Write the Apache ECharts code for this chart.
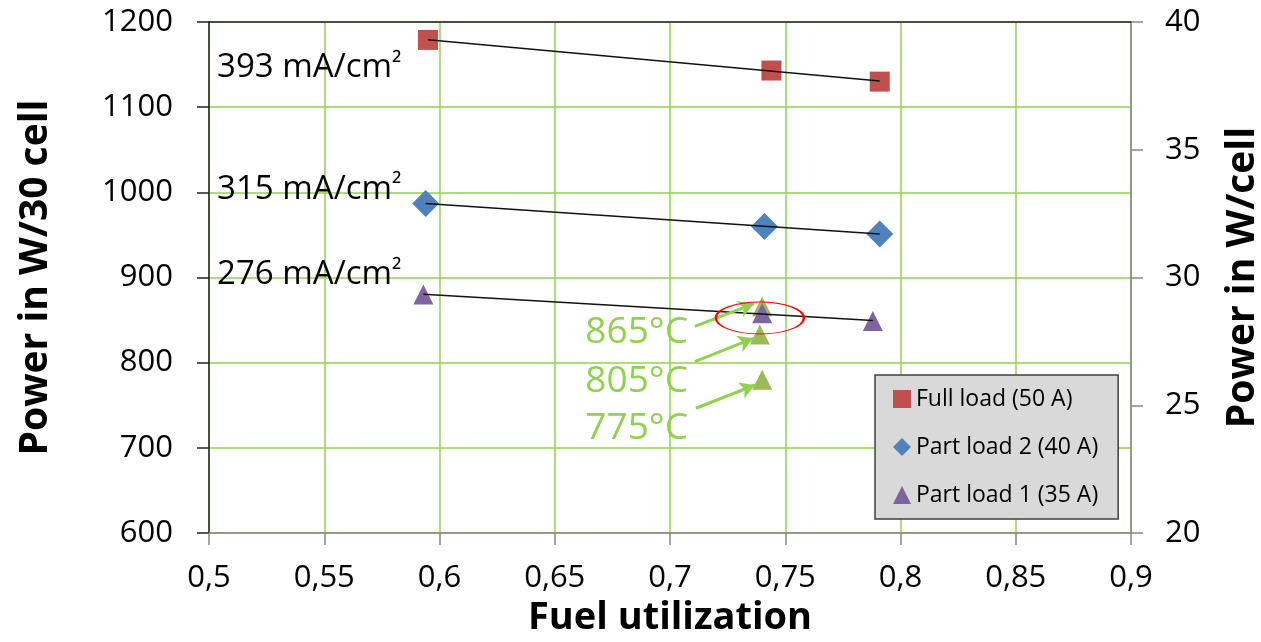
<!DOCTYPE html>
<html>
<head>
<meta charset="utf-8">
<script src="https://cdn.jsdelivr.net/npm/echarts@6/dist/echarts.min.js"></script>
<style>
html,body{margin:0;padding:0;background:#fff;}
#chart{width:1261px;height:642px;}
</style>
</head>
<body>
<div id="chart"></div>
<script>
// ---- data ----
const seriesNames = ['Full load (50 A)', 'Part load 2 (40 A)', 'Part load 1 (35 A)'];
const fullLoadX = [0.595, 0.744, 0.791];
const fullLoadY = [1179, 1143, 1130];
const partLoad2X = [0.594, 0.741, 0.791];
const partLoad2Y = [987, 960, 951];
const partLoad1X = [0.593, 0.740, 0.788];
const partLoad1Y = [880, 858, 849];
const tempPointX = [0.740, 0.739, 0.740];
const tempPointY = [866, 833, 780];
const tempLabels = ['865°C', '805°C', '775°C'];
const densityLabels = ['393 mA/cm²', '315 mA/cm²', '276 mA/cm²'];
// annotation anchors (data coordinates)
const densityLabelX = [0.5035, 0.5035, 0.5035];
const densityLabelY = [1146, 1003, 903];
const tempLabelX = [0.7078, 0.7078, 0.7078];
const tempLabelY = [835, 778, 723];
const arrowStart = [[0.7108, 842.5], [0.7108, 801.2], [0.7113, 746.5]];
const arrowEnd = [[0.7364, 869.3], [0.7361, 828.6], [0.7369, 773.8]];
const ellipseCenter = [0.739, 852.5];

const FONT = '"Open Sans", "Liberation Sans", sans-serif';

function zip(xs, ys) { return xs.map((x, i) => [x, ys[i]]); }
function trend(xs, ys) {
  const n = xs.length;
  const mx = xs.reduce((a, b) => a + b, 0) / n;
  const my = ys.reduce((a, b) => a + b, 0) / n;
  let sxy = 0, sxx = 0;
  for (let i = 0; i < n; i++) { sxy += (xs[i] - mx) * (ys[i] - my); sxx += (xs[i] - mx) ** 2; }
  const b = sxy / sxx, a = my - b * mx;
  const x0 = Math.min(...xs), x1 = Math.max(...xs);
  return [[x0, a + b * x0], [x1, a + b * x1]];
}

const colors = ['#C0504D', '#4F81BD', '#8064A2'];
const symbols = ['rect', 'diamond', 'triangle'];
const sizes = [20, 27, 20];
const xsArr = [fullLoadX, partLoad2X, partLoad1X];
const ysArr = [fullLoadY, partLoad2Y, partLoad1Y];

const series = [];
// green temperature points (drawn under the purple triangles)
series.push({
  name: 'temps', type: 'scatter', symbol: 'triangle', symbolSize: 20,
  itemStyle: { color: '#9BBB59', opacity: 1 }, z: 2,
  data: zip(tempPointX, tempPointY),
  markLine: {
    silent: true, symbol: ['none', 'arrow'], symbolSize: [13, 15],
    label: { show: false },
    lineStyle: { color: '#92D050', width: 3, type: 'solid', opacity: 1 },
    data: arrowStart.map((s, i) => [{ coord: s }, { coord: arrowEnd[i] }])
  }
});
for (let i = 0; i < 3; i++) {
  series.push({
    name: seriesNames[i], type: 'scatter', symbol: symbols[i], symbolSize: sizes[i],
    itemStyle: { color: colors[i], opacity: 1 }, z: 3,
    data: zip(xsArr[i], ysArr[i])
  });
}
for (let i = 0; i < 3; i++) {
  series.push({
    name: 'trend' + i, type: 'line', symbol: 'none', z: 4, silent: true,
    lineStyle: { color: '#111', width: 1.5 },
    data: trend(xsArr[i], ysArr[i])
  });
}
// red ellipse
series.push({
  name: 'ellipse', type: 'scatter', symbol: 'circle', symbolSize: [88, 32], z: 5, silent: true,
  itemStyle: { color: 'rgba(0,0,0,0)', borderColor: '#FF0000', borderWidth: 1.5, opacity: 1 },
  data: [ellipseCenter]
});
// text annotations
series.push({
  name: 'tempText', type: 'scatter', symbolSize: 0, z: 6, silent: true,
  itemStyle: { opacity: 1 },
  data: tempLabels.map((t, i) => ({ value: [tempLabelX[i], tempLabelY[i]], name: t })),
  label: { show: true, position: [0, 0], align: 'right', verticalAlign: 'middle', opacity: 1,
    formatter: p => p.name, color: '#92D050', fontSize: 37, fontFamily: FONT }
});
series.push({
  name: 'densText', type: 'scatter', symbolSize: 0, z: 6, silent: true,
  itemStyle: { opacity: 1 },
  data: densityLabels.map((t, i) => ({ value: [densityLabelX[i], densityLabelY[i]], name: t })),
  label: { show: true, position: [0, 0], align: 'left', verticalAlign: 'middle', opacity: 1,
    formatter: p => {
      const s = p.name;
      const k = s.indexOf('²');
      return k < 0 ? s : s.slice(0, k) + '{sup|²}' + s.slice(k + 1);
    },
    color: '#000', fontSize: 33, fontFamily: FONT,
    rich: { sup: { fontSize: 27, fontFamily: FONT, color: '#000', verticalAlign: 'top', padding: [0, 0, 4, 0] } }
  }
});

const chart = echarts.init(document.getElementById('chart'), null, { renderer: 'canvas' });
chart.setOption({
  animation: false,
  backgroundColor: '#fff',
  grid: { left: 209, right: 130, top: 22, bottom: 109, containLabel: false, outerBoundsMode: 'none' },
  legend: {
    data: seriesNames, orient: 'vertical', left: 875, top: 375,
    backgroundColor: '#D9D9D9', borderColor: '#404040', borderWidth: 1.5,
    padding: [11, 20, 11, 18], itemGap: 22, itemWidth: 18, itemHeight: 18,
    textStyle: { fontSize: 23, fontFamily: FONT, color: '#000', lineHeight: 26 }
  },
  xAxis: [{
    type: 'value', min: 0.5, max: 0.9, interval: 0.05,
    name: 'Fuel utilization', nameLocation: 'middle', nameGap: 64,
    nameTextStyle: { fontSize: 38, fontWeight: 'bold', fontFamily: FONT, color: '#000' },
    axisLine: { show: true, lineStyle: { color: '#868686', width: 1.5 } },
    axisTick: { show: true, length: 12, lineStyle: { color: '#868686', width: 1.5 } },
    axisLabel: { fontSize: 31, fontFamily: FONT, color: '#000', margin: 30,
      formatter: v => String(+v.toFixed(2)).replace('.', ',') },
    splitLine: { show: true, lineStyle: { color: '#92D050', width: 1.5 } }
  }, {
    type: 'value', position: 'top', min: 0.5, max: 0.9,
    axisLine: { show: true, lineStyle: { color: '#222', width: 1.5 } },
    axisTick: { show: false }, axisLabel: { show: false }, splitLine: { show: false }
  }],
  yAxis: [{
    type: 'value', min: 600, max: 1200, interval: 100,
    name: 'Power in W/30 cell', nameLocation: 'middle', nameGap: 154, nameRotate: 90,
    nameTextStyle: { fontSize: 39, fontWeight: 'bold', fontFamily: FONT, color: '#000' },
    axisLine: { show: true, lineStyle: { color: '#222', width: 1.5 } },
    axisTick: { show: true, length: 12, lineStyle: { color: '#222', width: 1.5 } },
    axisLabel: { fontSize: 31, fontFamily: FONT, color: '#000', margin: 36,
      formatter: v => String(v) },
    splitLine: { show: true, lineStyle: { color: '#92D050', width: 1.5 } }
  }, {
    type: 'value', position: 'right', min: 20, max: 40, interval: 5,
    name: 'Power in W/cell', nameLocation: 'middle', nameGap: 92, nameRotate: 90,
    nameTextStyle: { fontSize: 39, fontWeight: 'bold', fontFamily: FONT, color: '#000' },
    axisLine: { show: true, lineStyle: { color: '#868686', width: 1.5 } },
    axisTick: { show: true, length: 12, lineStyle: { color: '#868686', width: 1.5 } },
    axisLabel: { fontSize: 31, fontFamily: FONT, color: '#000', margin: 34,
      formatter: v => String(v) },
    splitLine: { show: false }
  }],
  series: series
});
</script>
</body>
</html>
